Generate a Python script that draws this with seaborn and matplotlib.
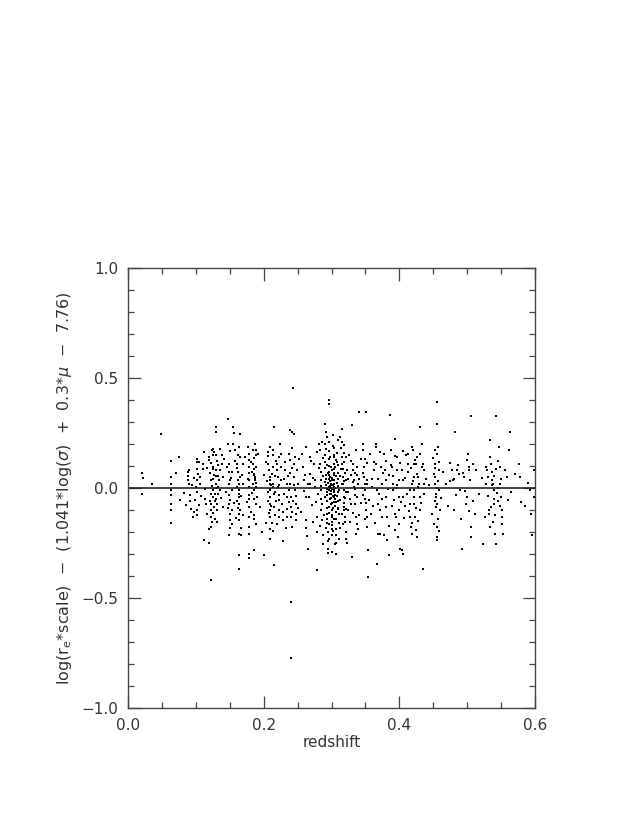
import pandas as pd
import matplotlib.pyplot as plt
import seaborn as sns
from matplotlib.ticker import MultipleLocator

banda_1 = [(0.021,0.068),(0.022,0.045),(0.021,-0.026),(0.036,0.020),(0.048,0.244),
    (0.063,0.123),(0.063,0.050),(0.063,0.020),(0.063,-0.008),(0.063,-0.033),(0.063,-0.074),(0.063,-0.098),(0.063,-0.159),
    (0.071,0.068),(0.075,0.141),(0.077,-0.056),(0.089,0.038),(0.088,0.073),(0.090,0.082),(0.090,0.020),(0.092,-0.033),
    (0.086,-0.079),(0.093,-0.094),(0.096,-0.132),(0.088,0.055),(0.091,-0.060),
    (0.101,0.133),(0.102,0.120),(0.102,0.088),(0.101,0.035),(0.102,-0.018),(0.101,-0.100),(0.102,-0.124),(0.099,-0.053),
    (0.105,0.118),(0.106,0.050),(0.106,0.020),(0.103,0.065),(0.104,-0.075),(0.100,0.005)]

banda_2 = [(0.112,0.164),(0.111,0.110),(0.113,-0.003),(0.114,-0.048),(0.115,-0.071),(0.112,-0.238),(0.120,-0.250),
    (0.120,0.126),(0.121,0.068),(0.122,0.035),(0.122,-0.026),(0.122,-0.071),(0.122,-0.132),(0.122,-0.177),(0.123,-0.417),
    (0.124,0.171),(0.125,0.179),(0.125,0.095),(0.126,0.042),(0.126,-0.011),(0.126,-0.041),(0.127,-0.086),(0.128,-0.139),
    (0.129,0.277),(0.129,0.255),(0.129,0.148),(0.130,0.080),(0.130,0.020),(0.130,-0.048),(0.131,-0.100),(0.131,-0.155),
    (0.133,0.103),(0.134,0.035),(0.135,-0.011),(0.135,0.179),(0.138,0.148),(0.139,0.110),(0.140,0.050),(0.140,-0.086),
    (0.127,0.060),(0.124,0.010),(0.128,-0.060),(0.131,0.125),(0.133,-0.025),(0.126,0.150),(0.123,-0.100),(0.129,0.000),
    (0.125,0.085),(0.132,0.055),
    (0.148,0.315),(0.148,0.200),(0.149,0.110),(0.149,0.073),(0.149,0.020),(0.149,-0.033),(0.149,-0.071),(0.150,-0.117),
    (0.150,-0.147),(0.149,-0.215),(0.151,0.035),(0.151,-0.056),
    (0.153,0.073),(0.153,-0.011),(0.154,-0.100),(0.154,-0.162),(0.155,0.277),(0.156,0.250),(0.155,0.200),(0.157,0.171),
    (0.161,0.110),(0.162,0.073),(0.162,0.035),(0.163,0.020),(0.163,-0.011),(0.163,-0.041),(0.163,-0.071),(0.163,-0.117),
    (0.164,-0.147),(0.163,-0.208),(0.164,-0.306),(0.163,-0.367),
    (0.165,0.247),(0.165,0.141),(0.165,0.050),(0.165,-0.100),(0.166,-0.215),(0.169,0.110),(0.169,0.020),(0.161,-0.060),
    (0.162,0.150),(0.164,-0.025),(0.160,0.090),(0.166,-0.180)]

banda_3 = [(0.177,0.186),(0.178,0.156),(0.178,0.126),(0.178,0.095),(0.178,0.068),(0.178,0.035),(0.179,0.005),(0.179,-0.033),
    (0.179,-0.048),(0.179,-0.086),(0.179,-0.132),(0.179,-0.177),(0.179,-0.208),(0.178,-0.298),(0.179,-0.317),
    (0.184,0.171),(0.184,0.110),(0.184,0.020),(0.185,-0.048),(0.185,-0.124),
    (0.186,0.088),(0.186,0.065),(0.187,0.050),(0.187,0.035),(0.188,0.171),(0.188,0.148),(0.188,0.005),(0.188,-0.071),
    (0.189,-0.162),(0.186,-0.283),(0.187,0.200),(0.186,0.060),(0.187,0.045),(0.185,-0.010),(0.183,0.075),
    (0.197,-0.200),(0.200,-0.306),
    (0.206,0.110),(0.208,0.080),(0.209,0.050),(0.209,0.186),(0.209,0.020),(0.210,-0.011),(0.210,-0.041),(0.209,-0.071),
    (0.209,-0.100),(0.209,-0.132),(0.209,-0.185),(0.209,-0.230),(0.210,-0.003),(0.211,0.012),
    (0.214,0.148),(0.214,0.095),(0.214,0.020),(0.215,-0.026),(0.215,-0.086),(0.216,-0.124),(0.215,0.277),(0.214,0.005),
    (0.215,-0.352),
    (0.219,0.110),(0.220,0.080),(0.221,0.050),(0.222,0.012),(0.222,-0.033),(0.222,-0.100),(0.222,-0.132),(0.223,0.141),
    (0.224,0.200),(0.225,0.095),(0.226,0.035),(0.227,-0.071),(0.228,-0.147),(0.229,-0.241),
    (0.232,0.080),(0.234,0.020),(0.235,-0.041),(0.235,-0.094),(0.235,-0.132),
    (0.238,0.156),(0.239,0.126),(0.239,0.068),(0.239,0.020),(0.240,-0.041),(0.240,-0.086),(0.240,-0.132),(0.241,-0.177),
    (0.240,-0.518),(0.240,-0.771),(0.241,0.255),(0.239,0.262),
    (0.243,0.455),(0.244,0.247),(0.244,0.110),(0.245,0.050),(0.246,-0.011),(0.247,-0.071),(0.247,-0.117),(0.248,-0.147),
    (0.249,0.080),(0.251,0.020),
    (0.205,0.030),(0.207,-0.020),(0.212,0.065),(0.218,-0.060),(0.212,-0.160),(0.206,0.145),(0.237,-0.010),(0.243,-0.060),
    (0.230,0.040),(0.242,0.180)]

banda_4 = [(0.258,0.095),(0.260,0.035),(0.262,0.186),(0.262,-0.041),(0.263,-0.147),(0.264,-0.220),(0.265,-0.276),
    (0.268,0.141),(0.268,0.065),(0.269,0.020),(0.271,-0.079),
    (0.274,0.110),(0.276,0.035),(0.276,0.005),(0.278,-0.132),(0.278,-0.374),(0.279,-0.200),
    (0.282,0.200),(0.283,0.110),(0.284,0.073),(0.284,0.035),(0.285,-0.011),(0.285,-0.048),(0.285,-0.100),(0.286,-0.147),
    (0.287,-0.215),(0.288,-0.253),(0.286,0.209),(0.283,0.171),
    (0.290,0.292),(0.292,0.255),(0.297,0.400),(0.297,0.380),
    (0.290,0.150),(0.291,0.120),(0.291,0.090),(0.292,0.060),(0.292,0.040),(0.292,0.015),(0.293,-0.005),(0.293,-0.030),
    (0.293,-0.060),(0.294,-0.090),(0.294,-0.120),(0.294,-0.160),(0.295,-0.200),(0.295,-0.240),(0.295,-0.275),
    (0.296,0.210),(0.296,0.170),(0.297,0.130),(0.297,0.100),(0.297,0.075),(0.298,0.050),(0.298,0.030),(0.298,0.010),
    (0.299,0.000),(0.299,-0.015),(0.299,-0.025),(0.299,-0.045),(0.300,-0.070),(0.300,-0.100),(0.300,-0.130),
    (0.301,-0.170),(0.301,-0.215),(0.301,-0.290),
    (0.302,0.240),(0.302,0.190),(0.303,0.140),(0.303,0.110),(0.303,0.085),(0.303,0.060),(0.304,0.035),(0.304,0.020),
    (0.304,0.005),(0.304,-0.010),(0.305,-0.030),(0.305,-0.050),(0.305,-0.080),(0.306,-0.110),(0.306,-0.140),
    (0.306,-0.185),(0.307,-0.250),(0.307,-0.300),
    (0.308,0.160),(0.308,0.120),(0.309,0.070),(0.309,0.040),(0.309,0.010),(0.310,-0.020),(0.310,-0.060),(0.310,-0.090),
    (0.311,-0.120),(0.311,-0.160),(0.311,-0.230),
    (0.295,0.025),(0.296,-0.010),(0.298,-0.050),(0.300,0.015),(0.301,0.045),(0.302,-0.035),(0.303,-0.065),(0.297,-0.085),
    (0.296,0.060),(0.299,0.095),(0.304,0.150),(0.300,-0.155),(0.302,-0.195),(0.297,-0.230),(0.292,-0.180),(0.291,0.200),
    (0.313,0.230),(0.314,0.180),(0.315,0.140),(0.316,0.110),(0.317,0.085),(0.317,0.050),(0.317,0.020),(0.318,-0.010),
    (0.318,-0.040),(0.318,-0.070),(0.319,-0.085),(0.319,-0.100),(0.320,-0.130),(0.320,-0.155),(0.321,-0.200),
    (0.322,-0.230),(0.323,-0.250),(0.316,0.270),(0.315,0.210),(0.318,0.160),(0.320,0.070),(0.321,-0.020),(0.322,0.035),
    (0.319,0.120),
    (0.330,-0.314),(0.330,0.285),
    (0.331,0.110),(0.332,0.080),(0.333,0.035),(0.333,0.005),(0.334,-0.003),(0.335,-0.033),(0.335,-0.071),(0.336,-0.132),
    (0.338,-0.162),(0.339,-0.185),(0.328,0.060),(0.327,-0.050),(0.326,0.150),(0.325,-0.100),(0.337,0.060),(0.339,0.020),
    (0.336,-0.210),(0.340,0.345)]

banda_5 = [(0.351,0.345),(0.346,0.200),(0.347,0.171),(0.348,0.095),(0.348,0.050),(0.349,0.020),(0.350,-0.011),
    (0.350,-0.048),(0.351,-0.100),(0.352,-0.132),(0.352,-0.177),(0.354,-0.405),(0.353,0.035),(0.353,0.020),
    (0.354,-0.283),(0.349,0.130),(0.351,-0.070),(0.345,0.000),
    (0.365,0.200),(0.366,0.186),(0.366,0.110),(0.367,-0.011),(0.368,-0.071),(0.369,-0.208),(0.367,-0.344),
    (0.371,-0.208),(0.372,-0.100),(0.373,0.095),(0.374,0.020),
    (0.378,0.156),(0.379,0.080),(0.380,0.035),(0.381,-0.041),(0.381,-0.086),(0.382,-0.132),(0.382,-0.238),
    (0.384,-0.306),(0.386,0.330),
    (0.388,0.171),(0.389,0.095),(0.390,0.020),(0.390,-0.011),(0.392,-0.056),(0.393,-0.117),(0.393,-0.192),(0.394,0.224),
    (0.396,0.141),(0.397,0.080),(0.399,0.035),(0.399,-0.041),(0.400,-0.100),(0.400,-0.162),(0.401,-0.276),
    (0.404,-0.283),(0.406,-0.298),
    (0.404,0.080),(0.405,0.035),(0.406,-0.041),
    (0.412,0.110),(0.413,0.073),(0.415,-0.011),(0.416,-0.071),(0.416,-0.132),(0.417,-0.177),(0.418,-0.208),
    (0.419,0.186),(0.420,0.171),(0.421,0.110),(0.421,0.050),(0.422,-0.011),(0.422,-0.071),(0.423,-0.132),
    (0.425,-0.192),(0.426,-0.223),
    (0.425,0.110),(0.427,0.050),(0.429,0.020),(0.430,-0.041),(0.431,-0.100),(0.431,0.277),
    (0.434,0.200),(0.435,0.110),(0.436,0.080),(0.436,0.020),(0.435,-0.367),
    (0.410,0.150),(0.408,-0.080),(0.395,0.000),(0.385,0.060),(0.375,-0.050),(0.360,0.040),(0.358,-0.120),
    (0.362,0.080),(0.426,0.140),(0.418,0.020),(0.428,-0.150)]

banda_6 = [(0.452,0.171),(0.452,0.110),(0.453,0.050),(0.453,0.020),(0.454,-0.041),(0.454,-0.086),(0.455,-0.177),
    (0.455,-0.223),(0.456,-0.238),(0.455,0.292),(0.456,0.391),
    (0.457,0.186),(0.458,0.080),(0.459,-0.011),(0.460,-0.100),(0.451,0.065),(0.452,-0.060),(0.457,-0.140),(0.456,0.000),
    (0.469,0.020),(0.474,0.030),
    (0.477,0.080),(0.479,0.035),(0.480,-0.100),(0.482,0.255),
    (0.485,0.080),(0.488,0.065),(0.490,-0.011),(0.492,-0.276),
    (0.496,0.050),(0.498,-0.071),(0.500,-0.041),(0.501,0.156),(0.502,0.095),(0.503,0.080),(0.505,-0.177),
    (0.506,-0.223),(0.506,0.327),(0.511,-0.117),(0.509,0.110),
    (0.524,-0.253),(0.527,0.020),(0.529,0.080),(0.530,0.050),(0.532,-0.100),(0.532,-0.117),(0.534,-0.177),
    (0.534,0.217),(0.535,0.110),(0.536,0.073),(0.537,0.035),(0.538,0.020),(0.539,-0.011),(0.540,-0.048),
    (0.540,-0.071),(0.541,-0.208),(0.542,-0.253),(0.543,0.327),
    (0.547,0.186),(0.548,0.095),(0.549,0.020),(0.550,-0.041),(0.551,-0.100),(0.552,-0.162),(0.553,-0.208),
    (0.545,0.000),(0.546,-0.060),
    (0.558,0.050),(0.560,-0.056),(0.563,0.255),(0.561,0.171),
    (0.576,0.110),(0.578,0.050),(0.579,-0.063),
    (0.592,-0.011),(0.594,-0.117),(0.595,-0.215),(0.598,0.080),(0.598,-0.040)]

# segunda pasada: puntos de relleno en las zonas densas
extra_1 = [(0.094,0.012),(0.097,0.047),(0.083,-0.021),(0.108,-0.037),(0.117,0.093),(0.119,0.143),(0.116,-0.118),
    (0.121,-0.058),(0.123,0.113),(0.127,0.163),(0.128,-0.027),(0.131,-0.073),(0.124,-0.153),(0.129,0.057),(0.136,0.083),
    (0.137,-0.047),(0.142,0.133),(0.144,-0.018),(0.146,0.097),(0.147,-0.093),(0.150,0.167),(0.151,-0.183),(0.152,0.047),
    (0.156,-0.067),(0.158,0.123),(0.159,-0.137),(0.160,0.003),(0.162,-0.091),(0.164,0.187),(0.167,-0.034),(0.168,0.061),
    (0.170,-0.121),(0.172,0.143),(0.119,-0.187),(0.133,0.007),(0.126,-0.112),(0.110,0.087),(0.098,-0.108)]

extra_2 = [(0.176,-0.063),(0.177,0.043),(0.181,0.117),(0.182,-0.107),(0.183,-0.023),(0.185,0.137),(0.186,-0.143),
    (0.188,0.097),(0.189,0.023),(0.190,-0.041),(0.192,0.157),(0.194,-0.088),(0.201,0.061),(0.203,-0.157),(0.204,0.118),
    (0.206,-0.057),(0.207,0.163),(0.208,-0.113),(0.210,0.037),(0.211,-0.082),(0.213,0.173),(0.213,-0.197),(0.216,0.057),
    (0.217,-0.018),(0.218,0.122),(0.220,-0.163),(0.221,0.007),(0.223,-0.053),(0.226,0.156),(0.228,-0.108),(0.230,-0.027),
    (0.231,0.118),(0.233,-0.183),(0.236,0.053),(0.238,-0.063),(0.241,0.092),(0.242,-0.107),(0.244,0.013),(0.246,0.143),
    (0.248,-0.037),(0.250,-0.093),(0.252,0.133)]

extra_3 = [(0.255,-0.107),(0.257,0.153),(0.259,-0.013),(0.261,0.061),(0.263,-0.183),(0.266,0.017),(0.267,-0.042),
    (0.270,0.123),(0.272,-0.153),(0.273,0.047),(0.277,-0.063),(0.279,0.163),(0.280,-0.027),(0.281,0.093),(0.283,-0.173),
    (0.284,0.011),(0.286,-0.073),(0.287,0.137),(0.288,0.053),(0.289,-0.121),(0.290,0.027),(0.291,-0.043),(0.292,0.177),
    (0.293,-0.143),(0.294,0.107),(0.294,-0.017),(0.295,0.067),(0.296,-0.113),(0.297,0.003),(0.297,-0.163),(0.298,0.143),
    (0.299,-0.073),(0.300,0.037),(0.300,-0.003),(0.301,0.083),(0.301,-0.123),(0.302,0.013),(0.302,-0.093),(0.303,0.183),
    (0.303,-0.017),(0.304,-0.143),(0.305,0.097),(0.305,0.001),(0.306,0.057),(0.306,-0.063),(0.307,0.127),(0.307,-0.213),
    (0.308,-0.037),(0.308,0.023),(0.309,-0.097),(0.310,0.103),(0.311,-0.007),(0.312,0.053),(0.312,-0.183),(0.313,-0.053),
    (0.314,0.087),(0.315,-0.117),(0.316,0.017),(0.317,-0.163),(0.318,0.197),(0.319,0.033),(0.320,-0.047),(0.321,0.143),
    (0.322,-0.097),(0.323,0.083),(0.324,-0.017),(0.325,0.043),(0.327,-0.153),(0.328,0.123),(0.329,-0.073),(0.331,0.027),
    (0.332,-0.113),(0.334,0.067),(0.336,0.173),(0.337,-0.043),(0.338,0.097),(0.340,-0.123),(0.341,0.043),(0.343,-0.067),
    (0.344,0.133),(0.298,-0.027),(0.299,0.017),(0.303,-0.043),(0.296,0.041),(0.304,0.067),(0.300,-0.187),(0.305,-0.253),
    (0.309,0.217),(0.293,0.233),(0.295,-0.297)]

extra_4 = [(0.346,-0.033),(0.347,0.067),(0.349,-0.143),(0.352,0.113),(0.355,-0.053),(0.357,0.153),(0.359,0.007),
    (0.361,-0.083),(0.363,0.117),(0.364,-0.157),(0.368,0.043),(0.370,-0.027),(0.372,0.163),(0.374,-0.133),(0.376,0.067),
    (0.377,-0.213),(0.380,0.123),(0.383,-0.003),(0.385,-0.173),(0.387,0.107),(0.389,-0.083),(0.391,0.057),(0.393,0.147),
    (0.395,-0.133),(0.397,0.013),(0.398,-0.223),(0.401,0.113),(0.403,-0.063),(0.405,0.167),(0.407,-0.137),(0.409,0.047),
    (0.411,-0.027),(0.413,0.153),(0.414,-0.103),(0.417,0.093),(0.419,-0.157),(0.420,0.033),(0.421,-0.043),(0.423,0.127),
    (0.424,-0.093),(0.426,0.063),(0.428,0.003),(0.430,0.157),(0.432,-0.067),(0.433,0.097),(0.437,-0.027),(0.439,0.043)]

extra_5 = [(0.444,0.013),(0.448,-0.117),(0.450,0.137),(0.451,-0.163),(0.453,0.093),(0.454,-0.027),(0.455,0.153),
    (0.456,-0.073),(0.457,0.033),(0.458,-0.197),(0.459,0.117),(0.461,-0.047),(0.465,0.073),(0.471,-0.083),(0.475,0.113),
    (0.481,0.043),(0.484,-0.033),(0.487,0.107),(0.491,-0.143),(0.494,0.067),(0.497,-0.013),(0.499,0.127),(0.502,-0.103),
    (0.504,0.037),(0.508,-0.057),(0.513,0.083),(0.518,-0.027),(0.522,0.047),(0.526,-0.133),(0.528,0.097),(0.531,-0.037),
    (0.533,0.143),(0.535,-0.087),(0.536,0.013),(0.538,-0.153),(0.539,0.057),(0.541,-0.123),(0.543,0.087),(0.544,-0.023),
    (0.546,0.123),(0.548,-0.083),(0.550,0.043),(0.552,-0.133),(0.555,0.083),(0.565,-0.017),(0.570,0.063),(0.585,-0.083),
    (0.589,0.023)]

bandas = (banda_1 + banda_2 + banda_3 + banda_4 + banda_5 + banda_6
          + extra_1 + extra_2 + extra_3 + extra_4 + extra_5)
df = pd.DataFrame(bandas, columns=['redshift', 'residuo'])

sns.set_style('ticks')
plt.rcParams['font.family'] = ['DejaVu Sans']

fig = plt.figure(figsize=(6.42, 8.30), dpi=100)
ax = fig.add_axes([0.1994, 0.147, 0.6340, 0.530])

sns.scatterplot(data=df, x='redshift', y='residuo', ax=ax, color='black',
                marker='s', s=1.8, linewidth=0)
ax.axhline(0.0, color='#222222', linewidth=1.2)

ax.set_xlim(0.0, 0.6)
ax.set_ylim(-1.0, 1.0)
ax.xaxis.set_major_locator(MultipleLocator(0.2))
ax.xaxis.set_minor_locator(MultipleLocator(0.05))
ax.yaxis.set_major_locator(MultipleLocator(0.5))
ax.yaxis.set_minor_locator(MultipleLocator(0.1))
ax.set_xticklabels([f'{v:.1f}'.replace('-', '\u2212') for v in ax.get_xticks()])
ax.set_yticklabels([f'{v:.1f}'.replace('-', '\u2212') for v in ax.get_yticks()])
ax.tick_params(which='both', direction='in', top=True, right=True, labelsize=11,
               color='#444444', width=0.9, labelcolor='#333333')
ax.tick_params(which='major', length=9, pad=7)
ax.tick_params(which='minor', length=4.5)
for s in ax.spines.values():
    s.set_linewidth(1.0)
    s.set_color('#444444')

ax.set_xlabel('redshift', fontsize=11, labelpad=2, color='#333333')
ax.set_ylabel(r'log(r$_{\rm e}$*scale)  $-$  (1.041*log($\sigma$)  +  0.3*$\mu$  $-$  7.76)',
              fontsize=11.5, labelpad=5, color='#333333')

fig.savefig('out.png', dpi=100)
